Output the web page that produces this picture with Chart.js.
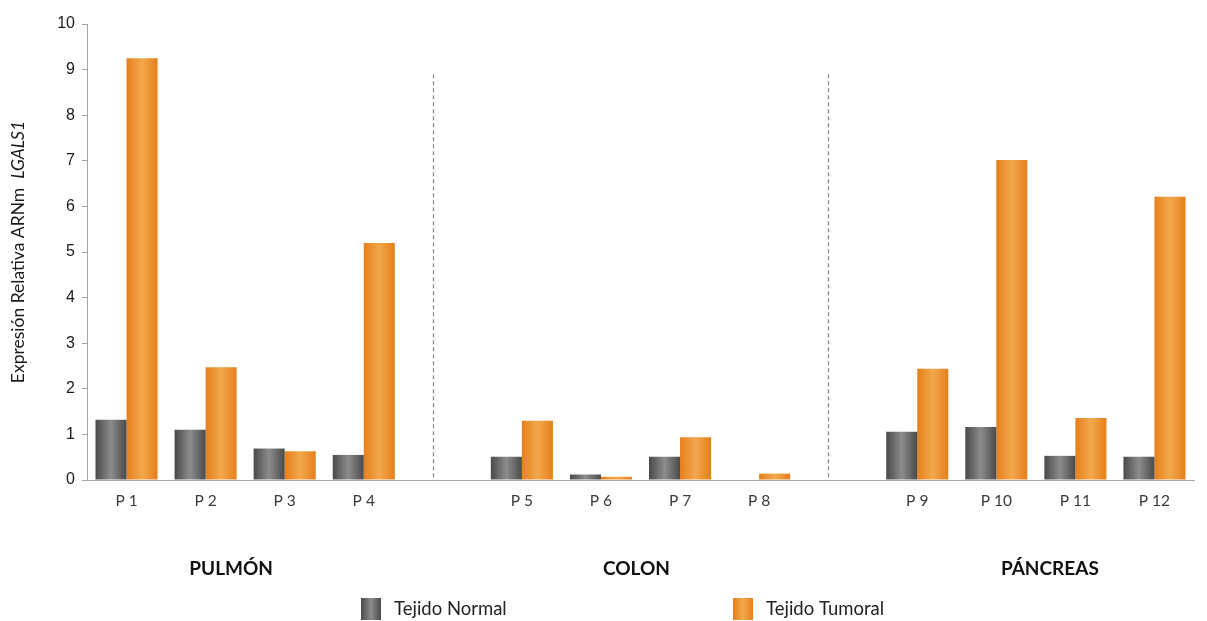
<!DOCTYPE html>
<html>
<head>
<meta charset="utf-8">
<title>Expresión Relativa ARNm LGALS1</title>
<script src="https://cdn.jsdelivr.net/npm/chart.js@4.4.1/dist/chart.umd.min.js"></script>
<style>
  html, body { margin: 0; padding: 0; background: #ffffff; }
  #wrap { width: 1207px; height: 621px; position: relative; }
</style>
</head>
<body>
<div id="wrap"><canvas id="chart" width="1207" height="621"></canvas></div>
<script>
// ---- data ----
const patients = ['P 1', 'P 2', 'P 3', 'P 4', 'P 5', 'P 6', 'P 7', 'P 8', 'P 9', 'P 10', 'P 11', 'P 12'];
const normalValues = [1.32, 1.10, 0.69, 0.55, 0.51, 0.12, 0.51, 0.00, 1.06, 1.16, 0.53, 0.51];
const tumorValues  = [9.25, 2.47, 0.63, 5.20, 1.30, 0.07, 0.94, 0.14, 2.44, 7.02, 1.36, 6.21];
const groupNames = ['PULMÓN', 'COLON', 'PÁNCREAS'];
const patientsPerGroup = 4;
const seriesNames = ['Tejido Normal', 'Tejido Tumoral'];
const yMin = 0, yMax = 10, yStep = 1;
const dividerTop = 8.9;

// ---- category layout: an empty slot separates each tissue group ----
const labels = [];
const normalData = [];
const tumorData = [];
const groupIndexRanges = [];
const spacerIndexes = [];
groupNames.forEach((g, gi) => {
  if (gi > 0) {
    spacerIndexes.push(labels.length);
    labels.push('');
    normalData.push(null);
    tumorData.push(null);
  }
  const start = labels.length;
  for (let k = 0; k < patientsPerGroup; k++) {
    const p = gi * patientsPerGroup + k;
    labels.push(patients[p]);
    normalData.push(normalValues[p]);
    tumorData.push(tumorValues[p]);
  }
  groupIndexRanges.push([start, labels.length - 1]);
});

const CAT_PCT = 0.785;
const palette = {
  normal: { edge: '#4a4a4a', mid: '#8c8c8c' },
  tumor:  { edge: '#e67f1c', mid: '#f2a84c' }
};

function hGradient(ctx2d, left, right, colors) {
  const g = ctx2d.createLinearGradient(left, 0, right, 0);
  g.addColorStop(0, colors.edge);
  g.addColorStop(0.5, colors.mid);
  g.addColorStop(1, colors.edge);
  return g;
}

// bar fill: horizontal shading across each bar
function barFill(colors, side) {
  return (ctx) => {
    const chart = ctx.chart;
    const xs = chart.scales && chart.scales.x;
    if (!xs || !chart.chartArea || ctx.type !== 'data') return colors.mid;
    const center = xs.getPixelForValue(ctx.dataIndex);
    const slot = xs.getPixelForValue(1) - xs.getPixelForValue(0);
    const half = slot * CAT_PCT / 2;
    const left = side === 0 ? center - half : center;
    return hGradient(chart.ctx, left, left + half, colors);
  };
}

const decor = {
  id: 'decor',
  beforeDatasetsDraw(chart, args, opts) {
    const { ctx } = chart;
    const xs = chart.scales.x, ys = chart.scales.y;
    ctx.save();
    ctx.strokeStyle = '#8c8c8c';
    ctx.lineWidth = 1.3;
    ctx.setLineDash([4, 3]);
    spacerIndexes.forEach(i => {
      const x = Math.round(xs.getPixelForValue(i) + opts.dividerShift) + 0.5;
      ctx.beginPath();
      ctx.moveTo(x, ys.getPixelForValue(dividerTop));
      ctx.lineTo(x, ys.getPixelForValue(0));
      ctx.stroke();
    });
    ctx.restore();
  },
  afterDraw(chart, args, opts) {
    const { ctx } = chart;
    const xs = chart.scales.x;
    ctx.save();

    // vertical axis title, gene name in italics
    const t1 = 'Expresión Relativa ARNm  ';
    const t2 = 'LGALS1';
    const fN = '17.5px Lato';
    const fI = 'italic 17.5px Lato';
    ctx.font = fN; const w1 = ctx.measureText(t1).width;
    ctx.font = fI; const w2 = ctx.measureText(t2).width;
    ctx.translate(opts.titleX, opts.titleY);
    ctx.rotate(-Math.PI / 2);
    ctx.fillStyle = '#1a1a1a';
    ctx.textBaseline = 'middle';
    ctx.textAlign = 'left';
    ctx.font = fN; ctx.fillText(t1, -(w1 + w2) / 2, 0);
    ctx.font = fI; ctx.fillText(t2, -(w1 + w2) / 2 + w1, 0);
    ctx.setTransform(1, 0, 0, 1, 0, 0);

    // tissue group names
    ctx.font = 'bold 19px Lato';
    ctx.fillStyle = '#111111';
    ctx.textAlign = 'center';
    ctx.textBaseline = 'middle';
    groupNames.forEach((g, gi) => {
      const [a, b] = groupIndexRanges[gi];
      const x = (xs.getPixelForValue(a) + xs.getPixelForValue(b)) / 2 + opts.groupShift[gi];
      ctx.fillText(g, x, opts.groupY);
    });

    // legend
    const cols = [palette.normal, palette.tumor];
    ctx.font = '18.5px Lato';
    ctx.textAlign = 'left';
    seriesNames.forEach((name, i) => {
      const bx = opts.legendX[i];
      ctx.fillStyle = hGradient(ctx, bx, bx + opts.boxW, cols[i]);
      ctx.fillRect(bx, opts.legendY - opts.boxH / 2, opts.boxW, opts.boxH);
      ctx.fillStyle = '#222222';
      ctx.fillText(name, bx + opts.boxW + 13, opts.legendY);
    });
    ctx.restore();
  }
};

new Chart(document.getElementById('chart'), {
  type: 'bar',
  data: {
    labels,
    datasets: [
      {
        label: seriesNames[0],
        data: normalData,
        backgroundColor: barFill(palette.normal, 0),
        borderWidth: 0,
        categoryPercentage: CAT_PCT,
        barPercentage: 1
      },
      {
        label: seriesNames[1],
        data: tumorData,
        backgroundColor: barFill(palette.tumor, 1),
        borderWidth: 0,
        categoryPercentage: CAT_PCT,
        barPercentage: 1
      }
    ]
  },
  options: {
    responsive: false,
    animation: false,
    layout: { padding: { top: 24, right: 13, left: 0, bottom: 0 } },
    plugins: {
      legend: { display: false },
      tooltip: { enabled: false },
      decor: {
        titleX: 18, titleY: 252,
        dividerShift: -10,
        groupY: 569, groupShift: [-14, -4, 14],
        legendX: [361, 733], legendY: 609, boxW: 20, boxH: 22
      }
    },
    scales: {
      x: {
        type: 'category',
        offset: true,
        grid: { display: true, drawOnChartArea: false, drawTicks: false },
        border: { display: true, color: '#a6a6a6', width: 1 },
        ticks: {
          color: '#3a3a3a',
          font: { family: 'Lato', size: 15.5 },
          padding: 12,
          autoSkip: false,
          maxRotation: 0
        },
        afterFit(scale) { scale.height = 141; }
      },
      y: {
        min: yMin,
        max: yMax,
        grid: { drawOnChartArea: false, drawTicks: true, tickLength: 5, color: '#a6a6a6' },
        border: { display: true, color: '#a6a6a6', width: 1 },
        ticks: {
          stepSize: yStep,
          color: '#1a1a1a',
          font: { family: 'Liberation Sans', size: 16 },
          padding: 7
        },
        afterFit(scale) { scale.width = 87; }
      }
    }
  },
  plugins: [decor]
});
</script>
</body>
</html>
